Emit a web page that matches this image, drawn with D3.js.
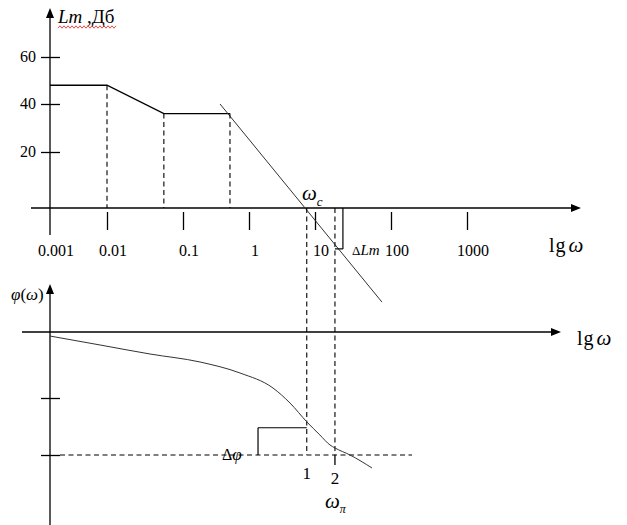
<!DOCTYPE html>
<html><head><meta charset="utf-8">
<script src="https://cdn.jsdelivr.net/npm/d3@7"></script>
<style>body{margin:0;background:#fff}svg{display:block}text{font-family:"Liberation Serif","Times New Roman",serif;fill:#000}</style>
</head><body>
<script>
// ---- data ----
const xTicks = [0.001, 0.01, 0.1, 1, 10, 100, 1000];
const xTickLabels = ["0.001", "0.01", "0.1", "1", "10", "100", "1000"];
const lmTicks = [20, 40, 60];
const lmTickLabels = ["20", "40", "60"];
const lmAsymptote = [
  {w: 0.001, lm: 48}, {w: 0.01, lm: 48}, {w: 0.056, lm: 36}, {w: 0.515, lm: 36}
];
const lmHighFreq = [{w: 0.364, lm: 40}, {w: 76, lm: -33.6}];
const breakFreqs = [0.01, 0.056, 0.515];
const wc = 7.5;       // crossover frequency
const wpi = 18.3;     // phase crossover frequency
const deltaLm = -14.6;
const phaseTicks = [-90, -180];
const phaseW   = [0.001, 0.00754, 0.0368, 0.181, 0.731, 2.31, 4.18, 7.55, 11.6, 15.75, 18.3, 28.9, 56.2];
const phaseDeg = [-5.5, -17.7, -30, -40.9, -55.9, -76.4, -97.9, -127.9, -148.4, -164.2, -168.9, -180, -200.5];
const deltaPhiLevel = -137;
const deltaPhiStart = 1.37;

// ---- scales ----
const W = 627, H = 525;
const x = d3.scaleLog().domain(xTicks).range([50, 107, 183, 249, 315, 391, 467]);
const yLm = d3.scaleLinear().domain([0, 20, 40, 60]).range([208, 152, 104, 57]);
const yPh = d3.scaleLinear().domain([0, -90, -180]).range([332, 398, 455]);

const svg = d3.select("body").append("svg").attr("width", W).attr("height", H);
const ink = "#000";

function arrow(tx, ty, dir) {
  const p = dir === "right"
    ? [[tx, ty], [tx - 10, ty - 4], [tx - 10, ty + 4]]
    : [[tx, ty], [tx - 4, ty + 10], [tx + 4, ty + 10]];
  svg.append("path").attr("d", "M" + p.map(q => q.join(",")).join("L") + "Z").attr("fill", ink);
}
function seg(x1, y1, x2, y2, opts = {}) {
  return svg.append("line").attr("x1", x1).attr("y1", y1).attr("x2", x2).attr("y2", y2)
    .attr("stroke", opts.color || ink).attr("stroke-width", opts.w || 1.3)
    .attr("stroke-dasharray", opts.dash ? "5,3.5" : null);
}

// ---------- TOP: Lm ----------
const x0 = x(xTicks[0]);
seg(31, yLm(0), 572, yLm(0));
arrow(581, yLm(0), "right");
seg(x0, 235, x0, 18);
arrow(x0, 8, "up");

const gyL = svg.append("g").attr("transform", `translate(${x0 + 10},0)`)
  .call(d3.axisLeft(yLm).tickValues(lmTicks).tickSize(19).tickFormat(""));
gyL.select(".domain").remove();
gyL.selectAll("line").attr("stroke", ink).attr("stroke-width", 1.3);
svg.selectAll(".ylab").data(lmTicks).join("text")
  .attr("x", 36).attr("y", d => yLm(d) + 5).attr("text-anchor", "end")
  .style("font-size", "16px").text((d, i) => lmTickLabels[i]);

const gx = svg.append("g").attr("transform", `translate(0,212)`)
  .call(d3.axisBottom(x).tickValues(xTicks.slice(1)).tickSize(18).tickFormat(""));
gx.select(".domain").remove();
gx.selectAll("line").attr("stroke", ink).attr("stroke-width", 1.3);
svg.selectAll(".xlab").data(xTicks).join("text")
  .attr("x", d => x(d) + 6).attr("y", 256).attr("text-anchor", "middle")
  .style("font-size", "16px").text((d, i) => xTickLabels[i]);

const lineLm = d3.line().x(d => x(d.w)).y(d => yLm(d.lm));
svg.append("path").datum(lmAsymptote).attr("d", lineLm)
  .attr("fill", "none").attr("stroke", ink).attr("stroke-width", 1.4);
svg.append("path").datum(lmHighFreq).attr("d", lineLm)
  .attr("fill", "none").attr("stroke", "#333").attr("stroke-width", 1);

breakFreqs.forEach(w => {
  const v = lmAsymptote.find(d => Math.abs(d.w - w) < 1e-9);
  seg(x(w), yLm(v.lm), x(w), yLm(0), {dash: true, w: 1.1});
});

// ΔLm bracket
const xDL = x(23.3);
seg(x(wpi), yLm(deltaLm), xDL, yLm(deltaLm), {w: 1.2});
seg(xDL, yLm(deltaLm), xDL, yLm(0), {w: 1.2});

// dashed verticals through both charts
seg(x(wc), yLm(0), x(wc), yPh(-180), {dash: true, w: 1.1});
seg(x(wpi), yLm(0), x(wpi), yPh(-180), {dash: true, w: 1.1});

const lmLab = svg.append("text").attr("x", 58).attr("y", 23).style("font-size", "19px");
lmLab.append("tspan").style("font-style", "italic").text("Lm");
lmLab.append("tspan").text(" ,Дб");
const wave = d3.range(58, 118, 2).map((px, i) => [px, 27 + (i % 2 ? -1.2 : 1.2)]);
svg.append("path").attr("d", d3.line()(wave)).attr("fill", "none").attr("stroke", "#e02020").attr("stroke-width", 0.8);

function lgw(xp, yp) {
  const t = svg.append("text").attr("x", xp).attr("y", yp).style("font-size", "20px");
  t.append("tspan").attr("letter-spacing", "1px").text("lg");
  t.append("tspan").attr("dx", 2).style("font-style", "italic").style("font-size", "21px").text("ω");
}
lgw(549, 252);

const wcLab = svg.append("text").attr("x", 302).attr("y", 200).style("font-style", "italic").style("font-size", "21px");
wcLab.append("tspan").text("ω");
wcLab.append("tspan").attr("dy", 6).style("font-size", "13px").text("c");

const dlm = svg.append("text").attr("x", 352).attr("y", 255).style("font-size", "15px");
dlm.append("tspan").style("font-size", "13px").text("Δ");
dlm.append("tspan").style("font-style", "italic").text("Lm");

// ---------- BOTTOM: phase ----------
seg(22, yPh(0), 552, yPh(0));
arrow(561, yPh(0), "right");
seg(x0, H, x0, 294);
arrow(x0, 284, "up");

const gyP = svg.append("g").attr("transform", `translate(${x0 + 10},0)`)
  .call(d3.axisLeft(yPh).tickValues(phaseTicks).tickSize(19).tickFormat(""));
gyP.select(".domain").remove();
gyP.selectAll("line").attr("stroke", ink).attr("stroke-width", 1.3);

seg(x0 + 10, yPh(-180), 412, yPh(-180), {dash: true, w: 1.1});

const phase = phaseW.map((w, i) => ({w, deg: phaseDeg[i]}));
svg.append("path").datum(phase)
  .attr("d", d3.line().x(d => x(d.w)).y(d => yPh(d.deg)).curve(d3.curveMonotoneX))
  .attr("fill", "none").attr("stroke", "#333").attr("stroke-width", 1);

// Δφ bracket
seg(x(deltaPhiStart), yPh(-180), x(deltaPhiStart), yPh(deltaPhiLevel), {w: 1.2});
seg(x(deltaPhiStart), yPh(deltaPhiLevel), x(wc), yPh(deltaPhiLevel), {w: 1.2});

seg(x(wpi), yPh(-180), x(wpi), yPh(-180) + 10, {w: 1.3});

const phl = svg.append("text").attr("x", 11).attr("y", 300).style("font-size", "17px");
phl.append("tspan").style("font-style", "italic").text("φ");
phl.append("tspan").text("(");
phl.append("tspan").style("font-style", "italic").text("ω");
phl.append("tspan").text(")");

lgw(577, 345);

const dphi = svg.append("text").attr("x", 222).attr("y", 460).style("font-size", "17px");
dphi.append("tspan").style("font-size", "16px").text("Δ");
dphi.append("tspan").style("font-style", "italic").text("φ");

svg.append("text").attr("x", x(wc)).attr("y", 479).attr("text-anchor", "middle").style("font-size", "17px").text("1");
svg.append("text").attr("x", x(wpi)).attr("y", 484).attr("text-anchor", "middle").style("font-size", "17px").text("2");

const wpLab = svg.append("text").attr("x", 325).attr("y", 508).style("font-style", "italic").style("font-size", "21px");
wpLab.append("tspan").text("ω");
wpLab.append("tspan").attr("dy", 5).style("font-size", "12px").text("π");
</script>
</body></html>
